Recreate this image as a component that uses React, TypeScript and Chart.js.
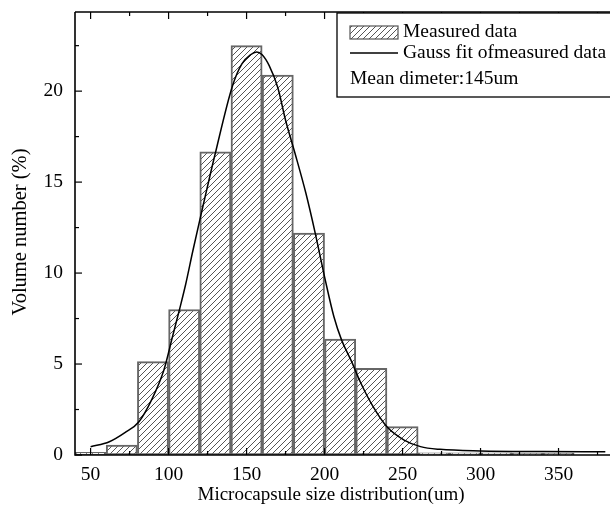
import React, { useEffect, useRef } from "react";
import { Chart, registerables } from "chart.js";

Chart.register(...registerables);

// Histogram bins (centers, bin width 20) and measured values (%)
const binCenters = [50, 70, 90, 110, 130, 150, 170, 190, 210, 230, 250, 270, 290, 310, 330, 350];
const measured = [0.15, 0.55, 5.13, 8.0, 16.66, 22.5, 20.88, 12.2, 6.37, 4.76, 1.56, 0.12, 0.12, 0.12, 0.1, 0.1];

// Gauss fit curve
const fitX = [50, 62, 72, 81, 89.5, 97, 102.5, 107, 111, 115.5, 120.5, 130, 141, 147, 152.5, 156.5, 160, 164.5, 170, 175, 181, 188, 194, 200.5, 206, 211, 217, 223, 231.5, 240, 251, 261.5, 274, 300, 340, 380];
const fitY = [0.45, 0.73, 1.23, 1.83, 3.1, 4.67, 6.5, 8.0, 9.4, 11.2, 13.1, 16.6, 20.3, 21.5, 22.0, 22.15, 22.0, 21.4, 20.2, 18.4, 16.6, 14.4, 12.2, 9.6, 7.6, 6.3, 5.2, 4.0, 2.6, 1.55, 0.82, 0.46, 0.31, 0.22, 0.19, 0.18];

const xTickValues = [50, 100, 150, 200, 250, 300, 350];
const xMinorValues = [75, 125, 175, 225, 275, 325, 375];
const yTickValues = [0, 5, 10, 15, 20];
const yMinorValues = [2.5, 7.5, 12.5, 17.5, 22.5];

const legendLabels = ["Measured data", "Gauss fit ofmeasured data", "Mean dimeter:145um"];
const xTitle = "Microcapsule size distribution(um)";
const yTitle = "Volume number (%)";

const FONT = "'Liberation Serif', 'Times New Roman', serif";

function makeHatch(): CanvasPattern | string {
  const s = 6;
  const c = document.createElement("canvas");
  c.width = s;
  c.height = s;
  const g = c.getContext("2d");
  if (!g) return "#fff";
  g.fillStyle = "#fff";
  g.fillRect(0, 0, s, s);
  g.strokeStyle = "#555";
  g.lineWidth = 1;
  g.beginPath();
  g.moveTo(0, s);
  g.lineTo(s, 0);
  g.moveTo(-1, 1);
  g.lineTo(1, -1);
  g.moveTo(s - 1, s + 1);
  g.lineTo(s + 1, s - 1);
  g.stroke();
  return g.createPattern(c, "repeat") || "#fff";
}

export default function App() {
  const ref = useRef<HTMLCanvasElement | null>(null);

  useEffect(() => {
    const canvas = ref.current;
    if (!canvas) return;
    const hatch = makeHatch();

    const decor = {
      id: "decor",
      afterDatasetsDraw(chart: any) {
        const { ctx, chartArea: a, scales } = chart;
        const x = scales.x;
        const y = scales.y;
        ctx.save();
        ctx.strokeStyle = "#000";
        ctx.lineCap = "butt";
        // frame
        ctx.lineWidth = 1.6;
        ctx.beginPath();
        ctx.moveTo(a.left, a.top);
        ctx.lineTo(a.right + 2, a.top);
        ctx.moveTo(a.left, a.top);
        ctx.lineTo(a.left, a.bottom);
        ctx.lineTo(a.right + 2, a.bottom);
        ctx.stroke();
        // inward ticks
        ctx.lineWidth = 1.2;
        const xt = (vals: number[], len: number) => {
          for (const v of vals) {
            const px = x.getPixelForValue(v);
            ctx.beginPath();
            ctx.moveTo(px, a.bottom);
            ctx.lineTo(px, a.bottom - len);
            ctx.moveTo(px, a.top);
            ctx.lineTo(px, a.top + len);
            ctx.stroke();
          }
        };
        const yt = (vals: number[], len: number) => {
          for (const v of vals) {
            const py = y.getPixelForValue(v);
            ctx.beginPath();
            ctx.moveTo(a.left, py);
            ctx.lineTo(a.left + len, py);
            ctx.stroke();
          }
        };
        xt(xTickValues, 7);
        xt(xMinorValues, 4);
        yt(yTickValues, 7);
        yt(yMinorValues, 4);

        // legend box
        const bx = 337, by = 13, bw = 290, bh = 84;
        ctx.fillStyle = "#fff";
        ctx.fillRect(bx, by, bw, bh);
        ctx.lineWidth = 1.3;
        ctx.strokeRect(bx, by, bw, bh);
        // swatch
        ctx.fillStyle = hatch as any;
        ctx.fillRect(350, 26, 48, 13);
        ctx.strokeStyle = "#555";
        ctx.lineWidth = 1.2;
        ctx.strokeRect(350, 26, 48, 13);
        // line sample
        ctx.strokeStyle = "#000";
        ctx.lineWidth = 1.4;
        ctx.beginPath();
        ctx.moveTo(350, 53);
        ctx.lineTo(398, 53);
        ctx.stroke();
        ctx.fillStyle = "#000";
        ctx.font = `19.5px ${FONT}`;
        ctx.textBaseline = "middle";
        ctx.textAlign = "left";
        ctx.fillText(legendLabels[0], 403, 32);
        ctx.fillText(legendLabels[1], 403, 53);
        ctx.fillText(legendLabels[2], 350, 79);

        // axis titles
        ctx.font = `19px ${FONT}`;
        ctx.textAlign = "center";
        ctx.fillText(xTitle, 331, 495);
        ctx.font = `20.5px ${FONT}`;
        ctx.translate(21, 232);
        ctx.rotate(-Math.PI / 2);
        ctx.fillText(yTitle, 0, 0);
        ctx.restore();
      },
    };

    const chart = new Chart(canvas, {
      type: "bar",
      data: {
        datasets: [
          {
            type: "bar",
            label: legendLabels[0],
            data: binCenters.map((c, i) => ({ x: c, y: measured[i] })),
            backgroundColor: hatch as any,
            borderColor: "#666",
            borderWidth: 2,
            borderSkipped: false,
            barPercentage: 1,
            categoryPercentage: 1,
            order: 2,
          } as any,
          {
            type: "line",
            label: legendLabels[1],
            data: fitX.map((v, i) => ({ x: v, y: fitY[i] })),
            borderColor: "#000",
            borderWidth: 1.5,
            pointRadius: 0,
            fill: false,
            cubicInterpolationMode: "monotone",
            order: 1,
          } as any,
        ],
      },
      options: {
        animation: false,
        responsive: false,
        maintainAspectRatio: false,
        layout: { padding: { top: 12, right: 0, left: 0, bottom: 0 } },
        plugins: {
          legend: { display: false },
          tooltip: { enabled: false },
        },
        scales: {
          x: {
            type: "linear",
            min: 40,
            max: 383,
            offset: false,
            grid: { display: false, drawTicks: false, offset: false },
            border: { display: false },
            afterBuildTicks: (s: any) => {
              s.ticks = xTickValues.map((v) => ({ value: v }));
            },
            afterFit: (s: any) => {
              s.height = 52;
              s.paddingLeft = 0;
              s.paddingRight = 0;
              s.paddingTop = 0;
              s.paddingBottom = 0;
            },
            ticks: {
              color: "#000",
              padding: 8,
              maxRotation: 0,
              autoSkip: false,
              font: { family: FONT, size: 19.5 },
            },
          },
          y: {
            type: "linear",
            min: 0,
            max: 24.35,
            grid: { display: false, drawTicks: false },
            border: { display: false },
            afterBuildTicks: (s: any) => {
              s.ticks = yTickValues.map((v) => ({ value: v }));
            },
            afterFit: (s: any) => {
              s.width = 75;
              s.paddingTop = 0;
              s.paddingBottom = 0;
              s.paddingLeft = 0;
              s.paddingRight = 0;
            },
            ticks: {
              color: "#000",
              padding: 12,
              autoSkip: false,
              font: { family: FONT, size: 19.5 },
            },
          },
        },
      } as any,
      plugins: [decor],
    });

    return () => chart.destroy();
  }, []);

  return (
    <div style={{ position: "fixed", left: 0, top: 0, width: 610, height: 507, background: "#fff" }}>
      <canvas ref={ref} width={610} height={507} style={{ display: "block", width: 610, height: 507 }} />
    </div>
  );
}
